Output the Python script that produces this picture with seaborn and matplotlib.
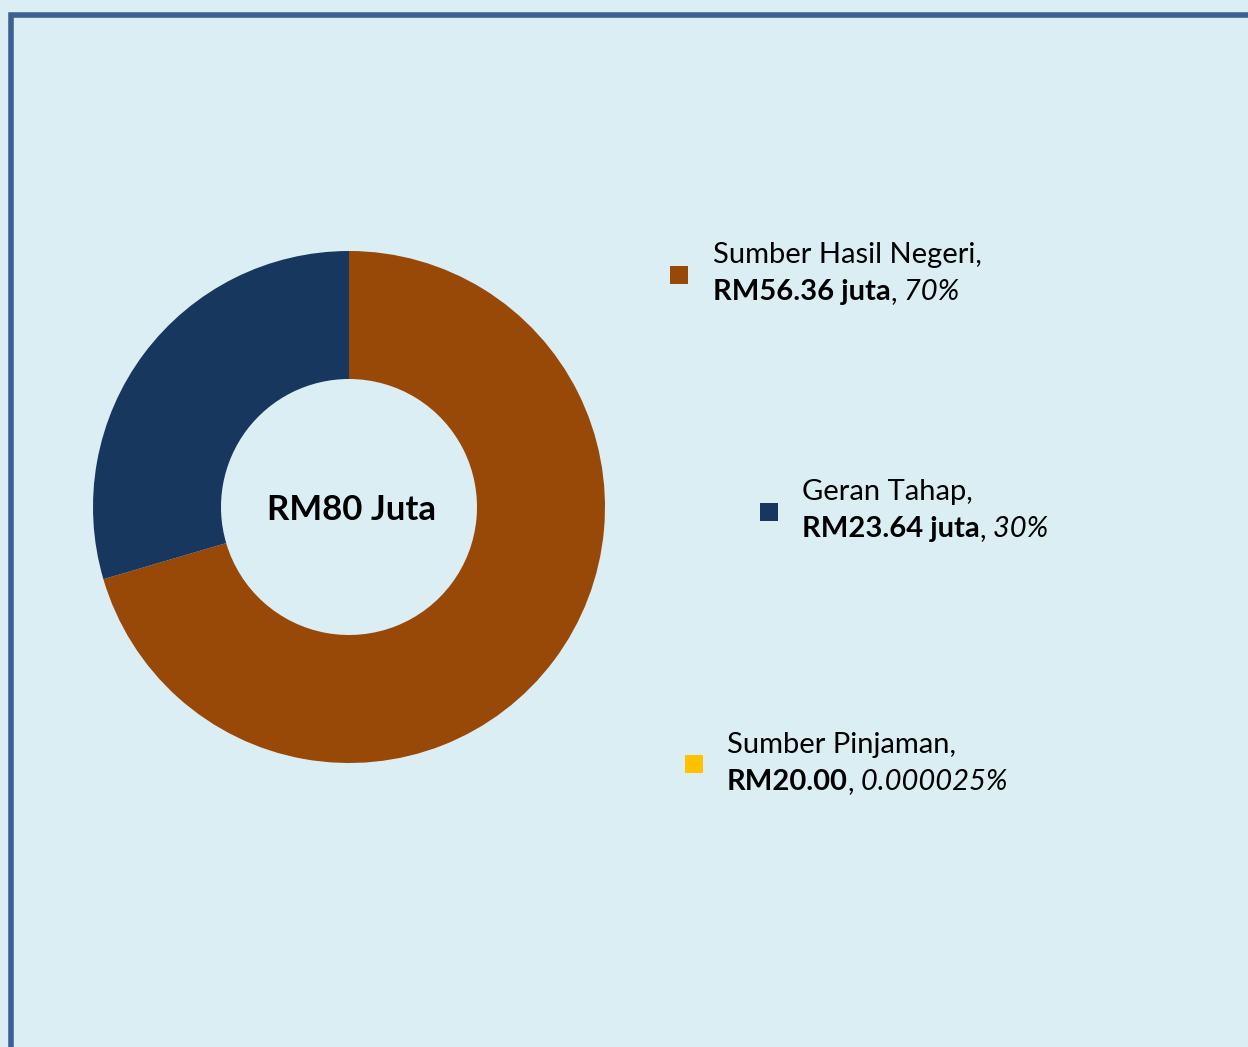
import matplotlib.pyplot as plt
import seaborn as sns
from matplotlib.patches import Rectangle

# data
sources = ['Sumber Hasil Negeri', 'Geran Tahap', 'Sumber Pinjaman']
amounts_juta = [56.36, 23.64, 0.00002]
amount_labels = ['RM56.36 juta', 'RM23.64 juta', 'RM20.00']
pct_labels = ['70%', '30%', '0.000025%']
colors = ['#984807', '#17375E', '#FFC000']
total_label = 'RM80 Juta'

sns.set_theme(style='white')
plt.rcParams['font.family'] = ['Lato', 'DejaVu Sans']

W, H = 1248, 1047
bg = '#DBEEF4'
fig = plt.figure(figsize=(W / 100, H / 100), dpi=100, facecolor=bg)


def fx(px):
    return px / W


def fy(py):
    return 1 - py / H


# frame (left and top edges visible)
fig.add_artist(Rectangle((fx(10.5), -0.1), 1.2, fy(14.5) + 0.1, transform=fig.transFigure,
                         fill=False, edgecolor='#3B6091', linewidth=4))

# donut
ax = fig.add_axes([fx(93), fy(763), 512 / W, 512 / H])
ax.pie(amounts_juta, colors=colors, startangle=90, counterclock=False, radius=1,
       wedgeprops=dict(width=0.5, edgecolor='none'))
ax.set_xlim(-1, 1)
ax.set_ylim(-1, 1)
ax.set_aspect('equal')
ax.axis('off')
ax.text(0.01, -0.01, total_label, ha='center', va='center', fontsize=25, fontweight='bold', color='black')

# legend entries: marker square, text x, first baseline
marker_pos = [(670, 266), (760, 503), (685, 755)]
text_pos = [(713, 263), (802, 500), (727, 753)]
fs = 21
for i in range(len(sources)):
    mx, my = marker_pos[i]
    fig.add_artist(Rectangle((fx(mx), fy(my + 18)), 18 / W, 18 / H, transform=fig.transFigure,
                             color=colors[i], lw=0))
    tx, ty = text_pos[i]
    fig.text(fx(tx), fy(ty), sources[i] + ',', fontsize=fs, va='baseline', color='black')
    t1 = fig.text(fx(tx), fy(ty + 37), amount_labels[i], fontsize=fs, fontweight='bold',
                  va='baseline', color='black')
    t2 = ax.annotate(',', xy=(1, 0), xycoords=t1, va='bottom', fontsize=fs, color='black')
    ax.annotate(' ' + pct_labels[i], xy=(1, 0), xycoords=t2, va='bottom', fontsize=fs,
                style='italic', color='black')

fig.savefig('out.png', dpi=100, facecolor=bg)
